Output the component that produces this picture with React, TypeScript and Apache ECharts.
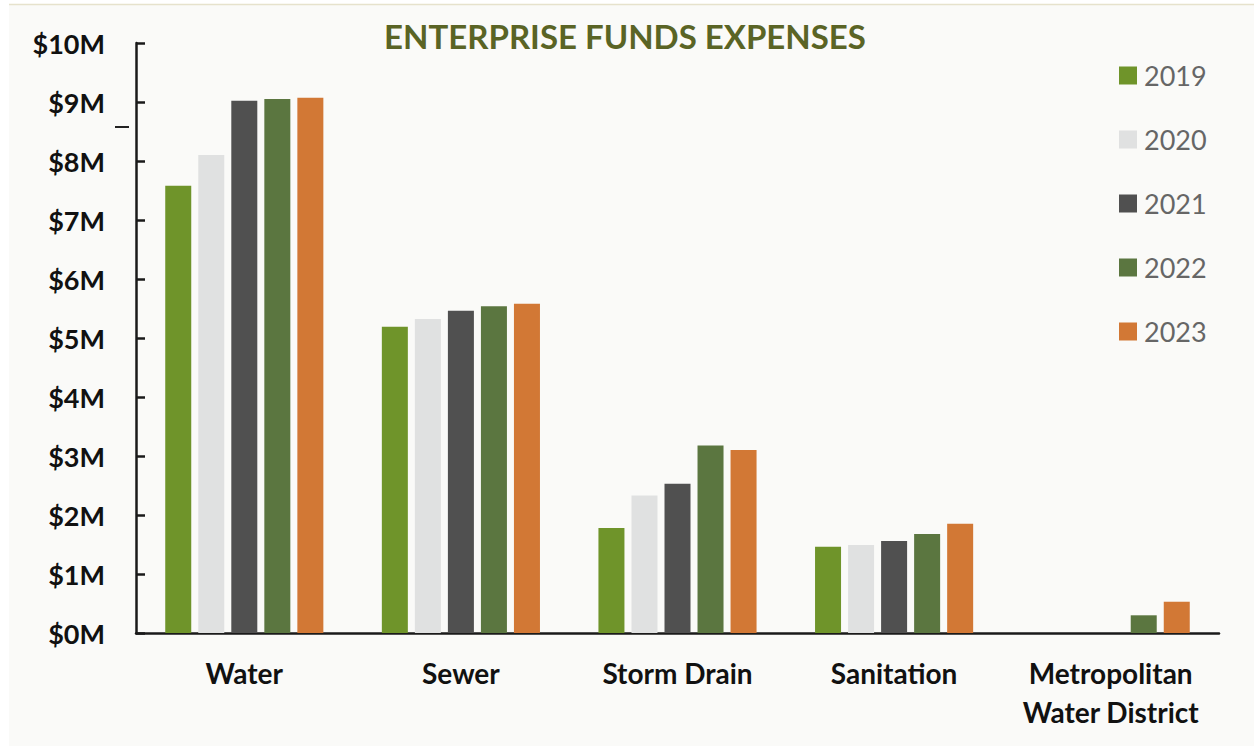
import React, { useEffect, useRef } from "react";
import * as echarts from "echarts";

const categories = ["Water", "Sewer", "Storm Drain", "Sanitation", "Metropolitan\nWater District"];
const years = ["2019", "2020", "2021", "2022", "2023"];
const v2019 = [7.58, 5.19, 1.78, 1.46, null];
const v2020 = [8.1, 5.32, 2.33, 1.49, null];
const v2021 = [9.02, 5.46, 2.53, 1.56, null];
const v2022 = [9.05, 5.54, 3.18, 1.68, 0.3];
const v2023 = [9.07, 5.58, 3.1, 1.85, 0.53];
const seriesValues = [v2019, v2020, v2021, v2022, v2023];
const colors = ["#6f942a", "#e0e1e1", "#505050", "#5b7640", "#d27835"];
const yTicks = { min: 0, max: 10, interval: 1 };

const FONT = "Lato";

export default function App() {
  const ref = useRef<HTMLDivElement>(null);
  useEffect(() => {
    if (!ref.current) return;
    const chart = echarts.init(ref.current, null, { renderer: "svg" });
    chart.setOption({
      animation: false,
      backgroundColor: "#ffffff",
      graphic: [
        { type: "rect", shape: { x: 9, y: 5, width: 1245, height: 741 }, style: { fill: "#fafaf8" }, z: -10 },
        { type: "line", shape: { x1: 9, y1: 4.5, x2: 1254, y2: 4.5 }, style: { stroke: "#e6e2cc", lineWidth: 1.5 }, z: -9 },
        { type: "line", shape: { x1: 115, y1: 127, x2: 129, y2: 127 }, style: { stroke: "#222", lineWidth: 2 } },
      ],
      title: {
        text: "ENTERPRISE FUNDS EXPENSES",
        left: 620,
        textAlign: "center",
        top: 14,
        padding: 5,
        textStyle: { fontFamily: FONT, fontWeight: "bold", fontSize: 33, color: "#5a6425" },
      },
      legend: {
        orient: "vertical",
        left: 1119,
        top: 62,
        padding: 0,
        itemWidth: 18,
        itemHeight: 18,
        itemGap: 37,
        icon: "rect",
        textStyle: { fontFamily: FONT, fontSize: 27, color: "#666666", padding: [0, 0, 0, 2] },
        data: years,
      },
      grid: { left: 136, right: 35, top: 43, bottom: 113 },
      xAxis: {
        type: "category",
        data: categories,
        axisLine: { lineStyle: { color: "#1a1a1a", width: 2.5 } },
        axisTick: { show: false },
        axisLabel: {
          fontFamily: FONT,
          fontWeight: "bold",
          fontSize: 28,
          color: "#111111",
          margin: 20,
          lineHeight: 39,
          interval: 0,
        },
      },
      yAxis: {
        type: "value",
        min: yTicks.min,
        max: yTicks.max,
        interval: yTicks.interval,
        axisLine: { show: true, lineStyle: { color: "#1a1a1a", width: 2.5 } },
        axisTick: { show: true, inside: true, length: 9, lineStyle: { color: "#1a1a1a", width: 2.5 } },
        splitLine: { show: false },
        axisLabel: {
          formatter: (v: number) => `$${v}M`,
          fontFamily: FONT,
          fontWeight: "bold",
          fontSize: 27,
          color: "#111111",
          margin: 31,
        },
      },
      series: years.map((y, i) => ({
        name: y,
        type: "bar",
        data: seriesValues[i],
        itemStyle: { color: colors[i] },
        barGap: "27%",
        barCategoryGap: "27%",
      })),
    });
    return () => chart.dispose();
  }, []);
  return <div ref={ref} style={{ position: "absolute", left: 0, top: 0, width: 1254, height: 746 }} />;
}
